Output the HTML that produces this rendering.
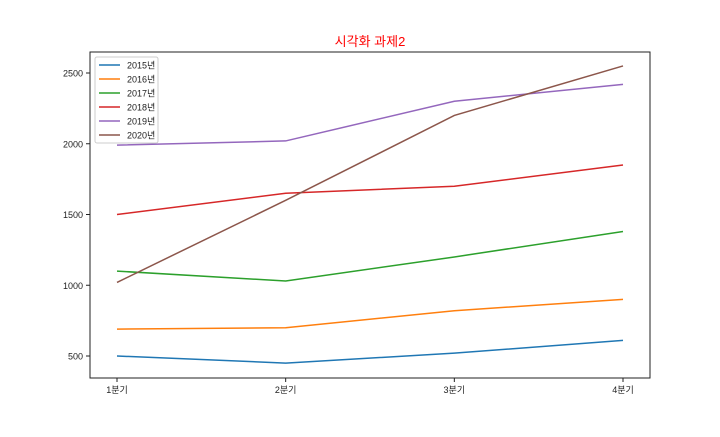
<!DOCTYPE html>
<html><head><meta charset="utf-8"><style>
body{margin:0;background:#fff}
svg text{font-family:"Liberation Sans","Noto Sans CJK KR",sans-serif}
</style></head><body>
<svg id="chart" width="720" height="432">
<rect width="720" height="432" fill="#fff"/>
<text x="370" y="46" text-anchor="middle" font-size="13" fill="#ff0000">시각화 과제2</text>
<g id="plot"></g>
<rect x="90" y="52" width="560" height="326" fill="none" stroke="#222" stroke-width="1"/>
</svg>
<script>
const categories=["1분기","2분기","3분기","4분기"];
const seriesNames=["2015년","2016년","2017년","2018년","2019년","2020년"];
const s2015=[500,450,520,610];
const s2016=[690,700,820,900];
const s2017=[1100,1030,1200,1380];
const s2018=[1500,1650,1700,1850];
const s2019=[1990,2020,2300,2420];
const s2020=[1020,1600,2200,2550];
const yTicks=[500,1000,1500,2000,2500];
const colors=["#1f77b4","#ff7f0e","#2ca02c","#d62728","#9467bd","#8c564b"];
const series=[s2015,s2016,s2017,s2018,s2019,s2020];
const NS="http://www.w3.org/2000/svg";
const g=document.getElementById('plot');
function xs(i){return 117+i*(623-117)/(categories.length-1);}
function ys(v){return 356-(v-500)*(356-73)/2000;}
function mk(t,a){const e=document.createElementNS(NS,t);for(const k in a)e.setAttribute(k,a[k]);g.appendChild(e);return e;}
yTicks.forEach(v=>{
  const l=mk('line',{x1:86,x2:90,y1:ys(v),y2:ys(v),stroke:'#222'});
  
  
  const t=mk('text',{x:83,y:ys(v)+3.5,'text-anchor':'end','font-size':'9',fill:'#222'});
  t.textContent=v;
  
  
});
categories.forEach((c,i)=>{
  const l=mk('line',{x1:xs(i),x2:xs(i),y1:378,y2:382,stroke:'#222'});
  
  
  const t=mk('text',{x:xs(i),y:393,'text-anchor':'middle','font-size':'9',fill:'#222'});
  t.textContent=c;
  
  
});
series.forEach((s,k)=>{
  const p=mk('polyline',{points:s.map((v,i)=>xs(i)+','+ys(v)).join(' '),fill:'none',stroke:colors[k],'stroke-width':1.5});
  
  
});
const lg=mk('rect',{x:95,y:57,width:63,height:86,rx:2,fill:'#fff','fill-opacity':0.8,stroke:'#ccc'});


seriesNames.forEach((n,k)=>{
  const y=65+k*14;
  const l=mk('line',{x1:99,x2:120,y1:y,y2:y,stroke:colors[k],'stroke-width':1.5});
  
  
  const t=mk('text',{x:127,y:y+3.5,'font-size':'9',fill:'#222'});
  t.textContent=n;
  
  
});
</script>
</body></html>
